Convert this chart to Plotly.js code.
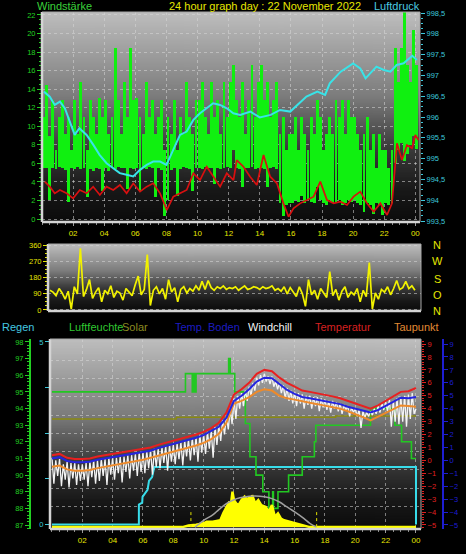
<!DOCTYPE html>
<html><head><meta charset="utf-8">
<script src="https://cdn.plot.ly/plotly-3.0.1.min.js"></script>
<style>html,body{margin:0;padding:0;background:#000;}#chart{width:466px;height:554px;}</style>
</head><body><div id="chart"></div>
<script>
// ---------------- DATA ----------------
// X tick labels (hours)
const hourTickVals = [2,4,6,8,10,12,14,16,18,20,22,24];
const hourTickText = ['02','04','06','08','10','12','14','16','18','20','22','00'];

// Top panel: wind (Windstärke) bars – low / high per 0.2 h sample (centres 0.1 .. 24.1 h)
const windHigh = [
 11,14.5,9,12.8,7.4,11,12.8,9.2,11,7.4,
 12.8,9.2,14.8,11,7.4,12.8,11,9.2,13,11,
 12.8,9.2,11,18.4,12.8,9.2,14.8,11,18.4,12.8,
 13,11,9.2,14.8,11,12.8,9.2,11,12.8,7.4,
 11,9.2,12.8,7.4,11,9.2,14.8,11,9.2,12.8,
 12.8,14.8,11,9.2,14.8,11,12.8,9.2,14.8,11,
 14.8,16.6,12.8,11,14.8,9.2,12.8,16.6,11,14.8,
 16.6,12.8,14.8,11,12.8,14.8,9.2,11,7.4,9.2,
 9.2,11,7.4,11,9.2,7.4,11,9.2,12.8,11,
 7.4,9.2,11,9.2,12.8,11,12.8,9.2,12.8,11,
 11,9.2,7.4,9.2,11,7.4,9.2,5.5,9.2,7.4,
 7.4,5.5,7.4,18.4,14.8,18.4,22.3,16.6,14.8,20.4,16.6];
const windLow = [
 5.5,5.5,2,5.5,5.4,5.6,5.5,5.3,1.8,5.5,
 5.4,5.6,5.4,5.5,2.4,5.4,5.2,5.5,5.4,3,
 5.5,5.2,5.5,5.4,5.6,5.5,5.5,3.2,5.5,5.4,
 5.5,3,5.5,5.4,5.6,5.5,2.4,5.5,5.3,0.3,
 2,5.3,5.5,2.5,5.4,5.6,5.5,5.4,3,5.5,
 5.5,5.4,5.6,5.5,5.5,3.8,5.5,5.4,5.5,5.6,
 5.5,7.4,5.5,5.4,3.5,5.5,5.5,5.6,5.4,5.5,
 5.5,5.4,3.5,5.5,5.6,5.4,1.7,0.3,1.5,1.7,
 1.7,2,1.8,2.5,1.7,2,1.8,1.7,3.5,2,
 1.7,1.5,2,1.7,1.8,2,1.5,1.7,2,1.8,
 2,1.7,1.5,0.8,1.7,1.5,0.5,1.7,1.5,0.4,
 1.7,1.5,1.7,6,7.4,8.2,6.3,7,8,9,7.5];

// Top panel: average wind (red)
const windAvgTimes = [0.18,0.5,0.82,1.15,1.58,2.0,2.43,2.87,3.29,3.72,4.15,4.58,5.01,5.44,5.87,6.3,6.73,7.15,7.59,8.02,8.44,8.87,9.3,9.73,10.16,10.59,11.02,11.45,11.88,12.31,12.52,12.95,13.38,13.81,14.24,14.67,15.1,15.52,15.85,16.17,16.6,17.03,17.46,17.89,18.32,18.75,19.18,19.61,20.03,20.46,20.89,21.32,21.75,22.18,22.5,22.82,23.14,23.46,23.79,24.0,24.2];
const windAvgVals = [4.03,3.49,2.77,3.13,2.77,2.23,3.13,2.77,3.49,2.59,3.49,3.13,3.67,2.77,3.85,2.95,3.49,3.85,2.77,0.97,2.41,2.77,3.13,4.93,4.2,5.64,4.56,3.49,4.93,4.2,6.36,5.64,4.56,3.67,6.9,4.56,3.85,1.69,0.25,1.15,1.69,2.05,2.41,4.03,2.05,1.69,1.87,1.51,2.41,2.95,1.69,0.79,1.69,0.43,1.69,8.17,6.36,7.98,7.63,9.06,8.52];

// Top panel: pressure (Luftdruck)
const pressTimes = [0.12,0.5,0.82,1.15,1.47,1.79,2.1,2.4,2.87,3.3,3.7,4.15,4.58,5.0,5.44,5.87,6.3,6.73,7.15,7.59,8.0,8.44,8.87,9.3,9.73,10.16,10.59,11.0,11.45,11.88,12.3,12.74,13.4,14.0,14.7,15.3,15.96,16.4,17.0,17.7,18.2,18.5,19.2,20.0,20.46,20.8,21.1,21.5,21.97,22.4,22.8,23.25,23.8,24.1];
const pressVals = [996.61,996.49,996.29,996.37,996.21,995.89,995.57,995.73,995.57,995.33,995.09,994.89,994.77,994.65,994.61,994.57,994.73,994.85,994.93,994.93,994.85,995.21,995.57,995.65,995.93,996.09,996.21,996.33,996.29,996.21,996.09,996.05,996.13,995.99,996.05,996.17,996.13,996.29,996.49,996.61,996.53,996.81,997.09,997.29,997.17,996.93,997.05,997.21,997.13,997.09,997.25,997.29,997.47,997.37];
const pressTickVals = [993.5,994,994.5,995,995.5,996,996.5,997,997.5,998,998.5];
const pressTickText = ['993,5','994','994,5','995','995,5','996','996,5','997','997,5','998','998,5'];

// Middle panel: wind direction, every 0.2 h
const windDir = [
 110,100,80,120,95,60,105,5,130,90,
 345,75,115,170,65,100,125,45,110,90,
 135,70,105,95,55,120,100,80,140,190,
 85,115,310,25,110,130,90,120,60,170,
 100,125,45,115,130,95,120,105,135,110,
 160,115,165,125,110,130,120,135,115,125,
 120,130,110,125,135,115,120,130,125,115,
 130,120,125,135,110,120,105,130,90,125,
 100,75,130,90,20,170,85,110,60,120,
 95,70,215,80,115,55,105,130,70,100,
 85,120,45,110,75,265,5,95,60,115,
 100,130,85,120,165,115,125,160,120,135,
 110];
const dirLabels = ['N','W','S','O','N'];

// Bottom panel: temperatures every 0.5 h
const tempVals = [0.4,0.5,0.2,0.1,0.1,0.15,0.3,0.4,0.45,0.55,0.65,0.75,0.9,1.0,1.2,1.35,1.5,1.65,1.8,2.0,2.2,2.5,2.9,3.7,5.1,5.5,6.0,6.7,7.0,6.9,6.4,6.0,5.7,5.4,5.3,5.2,5.1,4.95,4.8,4.6,4.4,4.2,4.0,4.25,4.6,5.0,5.3,5.35,5.6];
const bodenVals = [0.15,0.25,-0.05,-0.15,-0.15,-0.1,0.05,0.15,0.2,0.3,0.4,0.5,0.65,0.75,0.95,1.1,1.25,1.4,1.55,1.75,1.95,2.25,2.6,3.3,4.6,5.0,5.5,6.1,6.4,6.35,5.9,5.45,5.15,4.9,4.8,4.7,4.6,4.5,4.35,4.15,4.0,3.85,3.7,3.9,4.2,4.55,4.85,4.8,4.9];
const dewVals = [-0.5,-0.4,-0.7,-0.8,-0.8,-0.75,-0.6,-0.5,-0.4,-0.3,-0.2,-0.1,0.05,0.2,0.35,0.5,0.65,0.8,0.95,1.15,1.35,1.65,2.05,2.9,4.4,4.6,4.9,5.3,5.5,5.4,5.0,4.8,4.7,4.55,4.45,4.35,4.25,4.1,4.0,3.8,3.6,3.35,3.1,3.4,3.7,4.0,4.25,4.2,4.15];
// Windchill every 0.125 h
const chillVals = [
 0.2,-1.8,0.0,-1.2,0.1,-2.0,-0.3,-1.5,
 -0.1,-2.1,-0.2,-1.4,-0.2,-1.9,-0.3,-1.6,
 -0.3,-1.5,-0.2,-2.0,-0.1,-1.3,0.0,-1.8,
 0.0,-1.6,0.1,-1.2,0.1,-1.9,0.2,-1.1,
 0.2,-1.5,0.2,-1.0,0.3,-1.7,0.3,-0.9,
 0.4,-1.4,0.4,-0.8,0.5,-1.2,0.6,-0.9,
 0.6,-1.0,0.7,-0.6,0.8,-1.1,0.9,-0.5,
 0.9,-0.6,1.0,-0.2,1.1,-0.8,1.2,-0.1,
 1.2,-0.3,1.3,0.1,1.4,-0.4,1.5,0.3,
 1.6,0.0,1.7,0.4,1.8,-0.1,2.0,0.6,
 2.0,0.5,2.2,0.9,2.3,0.2,2.6,1.2,
 2.7,1.5,3.1,2.0,3.4,2.4,4.0,2.8,
 4.8,3.2,5.0,4.0,5.2,4.2,5.4,4.6,
 5.7,5.0,6.0,5.4,6.4,5.8,6.6,6.0,
 6.7,6.1,6.5,5.9,6.5,5.7,6.1,5.5,
 6.0,5.2,5.8,4.8,5.6,4.6,5.4,4.4,
 5.3,4.2,5.2,4.4,5.1,4.0,5.0,4.3,
 5.0,4.0,4.9,4.2,4.9,3.8,4.8,4.1,
 4.7,3.9,4.6,3.7,4.6,4.0,4.5,3.8,
 4.4,3.6,4.3,3.9,4.2,3.4,4.1,3.7,
 4.0,3.4,3.9,2.5,3.8,3.3,3.7,3.4,
 3.8,3.5,4.0,3.6,4.2,3.7,4.4,3.9,
 4.5,3.8,4.7,2.6,4.6,3.0,4.8,2.8,
 4.9,3.0,5.0,2.6,5.1,3.2,5.2,3.6,
 4.0];

// Humidity (Luftfeuchte) steps
const humTimes = [0,8.8,9.25,9.3,9.35,9.4,9.45,9.5,11.65,11.75,12.05,12.75,13.05,13.45,13.9,14.3,14.55,14.6,14.9,15.6,16.5,17.3,17.4,21.0,22.6,23.05,23.7,24.0];
const humVals  = [95.0,96.1,95.0,96.1,95.0,96.1,95.0,96.1,97.0,96.1,95.0,93.1,91.1,90.0,89.0,88.0,89.0,88.0,89.0,90.0,91.1,92.0,93.0,94.0,93.0,92.0,91.0,91.0];

// Rain (Regen)
const rainTimes = [0,5.73,5.73,5.95,5.97,6.3,6.4,6.6,6.75,24.0,24.0];
const rainVals  = [0,0,0.55,0.6,0.76,0.95,1.2,1.3,1.58,1.58,0];

// Solar radiation
const solarTimes = [0,8.6,9.0,9.5,10.0,10.2,10.6,10.9,11.1,11.3,11.5,11.7,11.8,11.9,12.0,12.15,12.3,12.5,12.7,12.9,13.0,13.1,13.2,13.4,13.6,13.8,14.1,14.3,14.5,14.7,14.9,15.1,15.3,15.7,16.2,16.6,17.0,24.0];
const solarVals  = [0,0,4,6,10,14,14,16,18,37,53,67,60,93,71,62,58,71,80,71,80,66,84,62,71,58,53,40,58,27,36,22,18,14,8,4,0,0];
// Theoretical max solar (grey curve)
const sunTimes = [9.43,10.0,10.6,11.0,11.5,12.0,12.4,13.0,13.4,14.0,14.5,15.0,15.5,16.0,16.6,17.0,17.45];
const sunVals  = [0,18,32,46,62,72,77,81,82,80,75,66,53,40,23,10,0];
const sunriseSunset = [9.16, 17.45];
const sunMarkHeight = 45;
// Olive "Solar" reference line
const oliveTimes = [0,8.2,18.7,24];
const oliveVals  = [3.2,3.33,3.43,3.43];

// ---------------- HELPERS ----------------
const W = 466, H = 554;
const px = x => x / W;
const py = y => 1 - y / H;
const grid = (start, step, n) => Array.from({length:n}, (_, i) => +(start + i*step).toFixed(4));

const windBarTimes = grid(0.1, 0.2, windHigh.length);
const windBarSpan = windHigh.map((h, i) => h - windLow[i]);
const dirTimes = grid(0, 0.2, windDir.length);
const halfHours = grid(0, 0.5, tempVals.length);
const chillTimes = grid(0, 0.125, chillVals.length);

// gradient background
function gradient() {
  const c = document.createElement('canvas');
  c.width = 4; c.height = 256;
  const g = c.getContext('2d');
  const lg = g.createLinearGradient(0, 0, 0, 256);
  lg.addColorStop(0, '#bebebe');
  lg.addColorStop(0.4, '#7c7c7c');
  lg.addColorStop(0.65, '#3a3a3a');
  lg.addColorStop(0.85, '#181818');
  lg.addColorStop(1, '#0b0b0b');
  g.fillStyle = lg; g.fillRect(0, 0, 4, 256);
  return c.toDataURL('image/png');
}
const bg = gradient();

// panel pixel boxes
const P1 = {l:42, r:420, t:12, b:222};
const P2 = {l:48, r:421, t:244, b:311};
const P3 = {l:50, r:421, t:339, b:529};
const dom = p => ({x:[px(p.l), px(p.r)], y:[py(p.b), py(p.t)]});
const D1 = dom(P1), D2 = dom(P2), D3 = dom(P3);

const FONT = 'Liberation Sans, Arial, sans-serif';
const GRID = 'rgba(215,215,215,0.55)';
const GREEN = '#22d022', CYAN = '#3cc8dc', YEL = '#e6e600', RED = '#e02020', BLUE = '#1e1ed2';

// ---------------- TRACES ----------------
const traces = [
  {type:'bar', x:windBarTimes, y:windBarSpan, base:windLow, width:0.19, xaxis:'x', yaxis:'y',
   marker:{color:'#10f010', line:{width:0}}, hoverinfo:'skip'},
  {type:'scatter', mode:'lines', x:windAvgTimes, y:windAvgVals, xaxis:'x', yaxis:'y',
   line:{color:'#d81010', width:1.7}},
  {type:'scatter', mode:'lines', x:pressTimes, y:pressVals, xaxis:'x', yaxis:'y2',
   line:{color:'#38e4e8', width:2}},

  {type:'scatter', mode:'lines', x:dirTimes, y:windDir, xaxis:'x2', yaxis:'y3',
   line:{color:'#f2f200', width:1.7}},

  {type:'scatter', mode:'lines', x:solarTimes, y:solarVals, xaxis:'x3', yaxis:'y8',
   fill:'tozeroy', fillcolor:'#ffff00', line:{color:'#ffff00', width:2.5}},
  {type:'scatter', mode:'lines', x:sunTimes, y:sunVals, xaxis:'x3', yaxis:'y8',
   line:{color:'#a0a0a0', width:1.5, shape:'spline'}},
  {type:'scatter', mode:'lines', x:[sunriseSunset[0], sunriseSunset[0], null, sunriseSunset[1], sunriseSunset[1]],
   y:[0, sunMarkHeight, null, 0, sunMarkHeight], xaxis:'x3', yaxis:'y8',
   line:{color:'#e0e000', width:1, dash:'dot'}},
  {type:'scatter', mode:'lines', x:rainTimes, y:rainVals, xaxis:'x3', yaxis:'y4',
   line:{color:'#38dcea', width:2}},
  {type:'scatter', mode:'lines', x:oliveTimes, y:oliveVals, xaxis:'x3', yaxis:'y6',
   line:{color:'#8a8a10', width:1.5, shape:'hv'}},
  {type:'scatter', mode:'lines', x:humTimes, y:humVals, xaxis:'x3', yaxis:'y5',
   line:{color:'#22c822', width:1.6, shape:'hv'}},
  {type:'scatter', mode:'lines', x:chillTimes, y:chillVals, xaxis:'x3', yaxis:'y6',
   line:{color:'#f4f4f4', width:1.3}},
  {type:'scatter', mode:'lines', x:halfHours, y:dewVals, xaxis:'x3', yaxis:'y6',
   line:{color:'#ee8a2a', width:2}},
  {type:'scatter', mode:'lines', x:halfHours, y:bodenVals, xaxis:'x3', yaxis:'y7',
   line:{color:'#2424e0', width:2}},
  {type:'scatter', mode:'lines', x:halfHours, y:tempVals, xaxis:'x3', yaxis:'y6',
   line:{color:'#e82020', width:2}}
];

// ---------------- LAYOUT ----------------
const tickFont = (c, s) => ({family:FONT, size:s || 7.5, color:c});
const xCommon = {
  tickvals:hourTickVals, ticktext:hourTickText, tickfont:tickFont(YEL, 8),
  ticks:'outside', ticklen:3, tickcolor:'#9a9a9a', showgrid:true, gridcolor:GRID, griddash:'dot',
  zeroline:false, showline:false, fixedrange:true,
  minor:{dtick:0.5, ticks:'outside', ticklen:2, tickcolor:'#8a8a8a', showgrid:false}
};

const annots = [];
const addText = (text, x, y, color, anchor, size) => annots.push({
  text, x:px(x), y:py(y), xref:'paper', yref:'paper', xanchor:anchor || 'left', yanchor:'middle',
  showarrow:false, font:{family:FONT, size:size || 11, color}
});
addText('Windstärke', 35, 6, '#3ad23a');
addText('Luftdruck', 372, 6, '#4ccae0');
const dirLabelY = [245, 261, 279, 295, 311];
dirLabels.forEach((t, i) => addText(t, 437, dirLabelY[i], YEL, 'center'));
addText('Regen', 0, 327, '#44c8e0');
addText('Luftfeuchte', 67, 327, '#30c830');
addText('Solar', 120, 327, '#8c8c20');
addText('Temp. Boden', 173, 327, '#1c1cc0');
addText('Windchill', 246, 327, '#f4f4f4');
addText('Temperatur', 313, 327, '#d82020');
addText('Taupunkt', 392, 327, '#e08a34');

const images = [P1, P2, P3].map(p => ({
  source:bg, xref:'paper', yref:'paper', x:px(p.l), y:py(p.t),
  sizex:px(p.r) - px(p.l), sizey:py(p.t) - py(p.b), sizing:'stretch',
  xanchor:'left', yanchor:'top', layer:'below'
}));

const shapes = [];
[P1, P2, P3].forEach(p => {
  shapes.push({type:'line', xref:'paper', yref:'paper', x0:px(p.l), x1:px(p.l), y0:py(p.b), y1:py(p.t), line:{color:'#d4d4d4', width:2.5}});
  shapes.push({type:'line', xref:'paper', yref:'paper', x0:px(p.l), x1:px(p.r), y0:py(p.b), y1:py(p.b), line:{color:'#d4d4d4', width:2.5}});
  shapes.push({type:'line', xref:'paper', yref:'paper', x0:px(p.r), x1:px(p.r), y0:py(p.b), y1:py(p.t), line:{color:'#a8a8a8', width:1}});
  shapes.push({type:'line', xref:'paper', yref:'paper', x0:px(p.l), x1:px(p.r), y0:py(p.t), y1:py(p.t), line:{color:'#a8a8a8', width:1}});
});

const layout = {
  width:W, height:H, margin:{l:0, r:0, t:0, b:0, pad:0},
  paper_bgcolor:'#000000', plot_bgcolor:'rgba(0,0,0,0)', showlegend:false,
  font:{family:FONT, color:'#ffffff'},
  title:{text:'24 hour graph day : 22 November 2022', font:{family:FONT, size:11, color:YEL},
         x:px(265), xanchor:'center', xref:'paper', y:py(6), yanchor:'middle', yref:'paper'},
  bargap:0,
  // top panel
  xaxis:Object.assign({}, xCommon, {domain:D1.x, anchor:'y', range:[0, 24.3]}),
  yaxis:{domain:D1.y, anchor:'x', range:[-0.32, 22.32], tickvals:[0,2,4,6,8,10,12,14,16,18,20,22],
    tickfont:tickFont(GREEN), ticks:'outside', ticklen:4, tickcolor:GREEN,
    showgrid:true, gridcolor:GRID, griddash:'dot', zeroline:false, showline:false, fixedrange:true,
    minor:{dtick:0.5, tick0:0, ticks:'outside', ticklen:2, tickcolor:GREEN, showgrid:false}},
  yaxis2:{overlaying:'y', side:'right', anchor:'x', range:[993.476, 998.524],
    tickvals:pressTickVals, ticktext:pressTickText, tickfont:tickFont(CYAN),
    ticks:'outside', ticklen:4, tickcolor:CYAN, showgrid:false, zeroline:false, showline:false, fixedrange:true,
    minor:{dtick:0.125, tick0:993.5, ticks:'outside', ticklen:1.5, tickcolor:CYAN, showgrid:false}},
  // middle panel
  xaxis2:{domain:D2.x, anchor:'y3', range:[-0.13, 24.4], showticklabels:false, ticks:'',
    showgrid:false, zeroline:false, showline:false, fixedrange:true},
  yaxis3:{domain:D2.y, anchor:'x2', range:[-6, 369.5], tickvals:[0,90,180,270,360],
    tickfont:tickFont(YEL), ticks:'outside', ticklen:4, tickcolor:YEL,
    showgrid:true, gridcolor:GRID, griddash:'dot', zeroline:false, showline:false, fixedrange:true,
    minor:{dtick:22.5, tick0:0, ticks:'outside', ticklen:2, tickcolor:YEL, showgrid:false}},
  // bottom panel
  xaxis3:Object.assign({}, xCommon, {domain:D3.x, anchor:'y4', range:[-0.13, 24.33]}),
  yaxis4:{domain:D3.y, anchor:'x3', range:[-0.12, 5.08], tickvals:[0,1.25,2.5,3.75,5],
    ticktext:['0','','','','5'], tickfont:tickFont(CYAN), ticks:'outside', ticklen:4, tickcolor:CYAN,
    showgrid:false, zeroline:false, showline:false, fixedrange:true,
    minor:{tickmode:'array', tickvals:[0.5,1,1.5,2,2.5,3,3.5,4,4.5], ticks:'', showgrid:true,
      gridcolor:GRID, griddash:'dot'}},
  yaxis5:{overlaying:'y4', anchor:'free', position:px(30), side:'left', range:[86.76, 98.18],
    tickvals:[87,88,89,90,91,92,93,94,95,96,97,98], tickfont:tickFont(GREEN),
    ticks:'outside', ticklen:4, tickcolor:GREEN, showline:true, linecolor:GREEN, linewidth:2,
    showgrid:false, zeroline:false, fixedrange:true,
    minor:{dtick:0.2, tick0:87, ticks:'outside', ticklen:2, tickcolor:GREEN, showgrid:false}},
  yaxis6:{overlaying:'y4', anchor:'x3', side:'right', range:[-5.31, 9.39],
    tickvals:[-5,-4,-3,-2,-1,0,1,2,3,4,5,6,7,8,9], tickfont:tickFont(RED),
    ticks:'outside', ticklen:4, tickcolor:RED, showgrid:false, zeroline:false, showline:false, fixedrange:true,
    minor:{dtick:0.2, tick0:0, ticks:'outside', ticklen:1.5, tickcolor:RED, showgrid:false}},
  yaxis7:{overlaying:'y4', anchor:'free', position:px(443), side:'right', range:[-5.31, 9.39],
    tickvals:[-5,-4,-3,-2,-1,0,1,2,3,4,5,6,7,8,9], tickfont:tickFont(BLUE),
    ticks:'outside', ticklen:4, tickcolor:BLUE, showline:true, linecolor:BLUE, linewidth:2,
    showgrid:false, zeroline:false, fixedrange:true},
  yaxis8:{overlaying:'y4', range:[-5, 495], visible:false, fixedrange:true},
  annotations:annots, images:images, shapes:shapes
};

Plotly.newPlot('chart', traces, layout, {staticPlot:true, displayModeBar:false});
</script>
</body></html>
